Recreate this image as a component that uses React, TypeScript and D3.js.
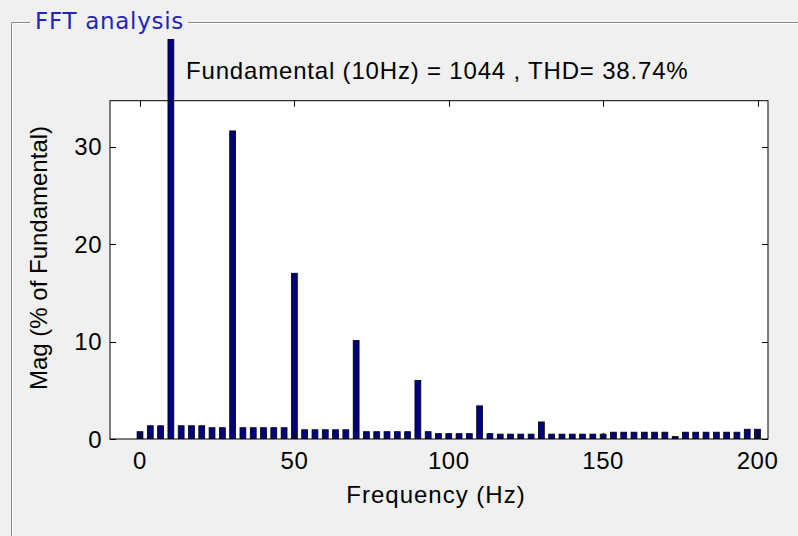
import React, { useEffect, useRef } from 'react';
import * as d3 from 'd3';

// FFT bins (Hz) and magnitudes (% of fundamental)
const freqs = [
  0, 3.33, 6.67, 10, 13.33, 16.67, 20, 23.33, 26.67, 30,
  33.33, 36.67, 40, 43.33, 46.67, 50, 53.33, 56.67, 60, 63.33,
  66.67, 70, 73.33, 76.67, 80, 83.33, 86.67, 90, 93.33, 96.67,
  100, 103.33, 106.67, 110, 113.33, 116.67, 120, 123.33, 126.67, 130,
  133.33, 136.67, 140, 143.33, 146.67, 150, 153.33, 156.67, 160, 163.33,
  166.67, 170, 173.33, 176.67, 180, 183.33, 186.67, 190, 193.33, 196.67,
  200,
];
const mags = [
  0.75, 1.36, 1.36, 100, 1.36, 1.36, 1.36, 1.16, 1.16, 31.6,
  1.16, 1.16, 1.16, 1.16, 1.16, 17.0, 0.95, 0.95, 0.95, 0.95,
  0.95, 10.1, 0.75, 0.75, 0.75, 0.75, 0.75, 6.0, 0.75, 0.55,
  0.55, 0.55, 0.55, 3.4, 0.55, 0.5, 0.5, 0.5, 0.5, 1.75,
  0.5, 0.5, 0.5, 0.5, 0.5, 0.5, 0.7, 0.7, 0.7, 0.7,
  0.7, 0.7, 0.25, 0.7, 0.7, 0.7, 0.7, 0.7, 0.7, 1.0,
  1.0,
];
const xTicks = [0, 50, 100, 150, 200];
const yTicks = [0, 10, 20, 30];
const panelTitle = 'FFT analysis';
const annotation = 'Fundamental (10Hz) = 1044 , THD= 38.74%';
const xLabel = 'Frequency (Hz)';
const yLabel = 'Mag (% of Fundamental)';

const W = 798;
const H = 536;

const App = () => {
  const svgRef = useRef<SVGSVGElement>(null);

  useEffect(() => {
    const svg = d3.select(svgRef.current);
    svg.selectAll('*').remove();

    const plot = { left: 110, right: 768, top: 100.7, bottom: 439 };
    const font = "'Liberation Sans', Arial, Helvetica, sans-serif";

    svg.append('rect').attr('width', W).attr('height', H).attr('fill', '#f0f0f0');

    // panel frame
    svg.append('path').attr('d', `M11.5,${H} V22.5 H${W}`).attr('fill', 'none').attr('stroke', '#8c8c8c');
    svg.append('path').attr('d', `M12.5,${H} V23.5 H${W}`).attr('fill', 'none').attr('stroke', '#ffffff');
    svg.append('rect').attr('x', 30).attr('y', 4).attr('width', 158).attr('height', 28).attr('fill', '#f0f0f0');
    svg.append('text')
      .attr('x', 35).attr('y', 29)
      .attr('fill', '#2424b8')
      .style('font-family', "'DejaVu Sans', Verdana, sans-serif")
      .style('font-size', '23px')
      .style('letter-spacing', '0.7px')
      .text(panelTitle);

    const x = d3.scaleLinear().domain([-9.72, 203.4]).range([plot.left, plot.right]);
    const y = d3.scaleLinear().domain([0, 34.7]).range([plot.bottom, plot.top]);

    svg.append('rect')
      .attr('x', plot.left).attr('y', plot.top)
      .attr('width', plot.right - plot.left).attr('height', plot.bottom - plot.top)
      .attr('fill', '#ffffff');

    const defs = svg.append('defs');
    defs.append('clipPath').attr('id', 'barclip')
      .append('rect')
      .attr('x', plot.left).attr('y', 39)
      .attr('width', plot.right - plot.left).attr('height', plot.bottom - 39);

    const barW = x(1.9) - x(0);
    svg.append('g').attr('clip-path', 'url(#barclip)')
      .selectAll('rect')
      .data(freqs.map((f, i) => ({ f, m: mags[i] })))
      .enter().append('rect')
      .attr('x', d => x(d.f) - barW / 2)
      .attr('y', d => y(d.m))
      .attr('width', barW)
      .attr('height', d => y(0) - y(d.m))
      .attr('fill', '#000080')
      .attr('stroke', '#000000')
      .attr('stroke-width', 0.8);

    // axes box with inward ticks on all sides
    const tickLen = 6;
    const axes = svg.append('g').attr('stroke', '#000000').attr('stroke-width', 1);
    axes.append('rect')
      .attr('x', plot.left).attr('y', plot.top)
      .attr('width', plot.right - plot.left).attr('height', plot.bottom - plot.top)
      .attr('fill', 'none');
    xTicks.forEach(t => {
      const px = Math.round(x(t)) + 0.5;
      axes.append('line').attr('x1', px).attr('x2', px).attr('y1', plot.bottom).attr('y2', plot.bottom - tickLen);
      axes.append('line').attr('x1', px).attr('x2', px).attr('y1', plot.top).attr('y2', plot.top + tickLen);
    });
    yTicks.forEach(t => {
      const py = Math.round(y(t)) + 0.5;
      axes.append('line').attr('x1', plot.left).attr('x2', plot.left + tickLen).attr('y1', py).attr('y2', py);
      axes.append('line').attr('x1', plot.right).attr('x2', plot.right - tickLen).attr('y1', py).attr('y2', py);
    });

    const labels = svg.append('g')
      .attr('fill', '#000000')
      .style('font-family', font)
      .style('font-size', '24px');

    labels.selectAll('.xt').data(xTicks).enter().append('text')
      .attr('x', d => x(d)).attr('y', plot.bottom + 30)
      .attr('text-anchor', 'middle')
      .style('letter-spacing', '0.5px')
      .text(d => d);

    labels.selectAll('.yt').data(yTicks).enter().append('text')
      .attr('x', plot.left - 8).attr('y', d => y(d) + 8.5)
      .attr('text-anchor', 'end')
      .style('letter-spacing', '0.5px')
      .text(d => d);

    labels.append('text')
      .attr('x', 436).attr('y', 503)
      .attr('text-anchor', 'middle')
      .style('letter-spacing', '1px')
      .text(xLabel);

    labels.append('text')
      .attr('transform', `translate(47,258) rotate(-90)`)
      .attr('text-anchor', 'middle')
      .text(yLabel);

    labels.append('text')
      .attr('x', 186).attr('y', 79)
      .style('letter-spacing', '0.82px')
      .text(annotation);
  }, []);

  return (
    <svg
      ref={svgRef}
      width={W}
      height={H}
      style={{ position: 'absolute', left: 0, top: 0, display: 'block' }}
    />
  );
};

export default App;
